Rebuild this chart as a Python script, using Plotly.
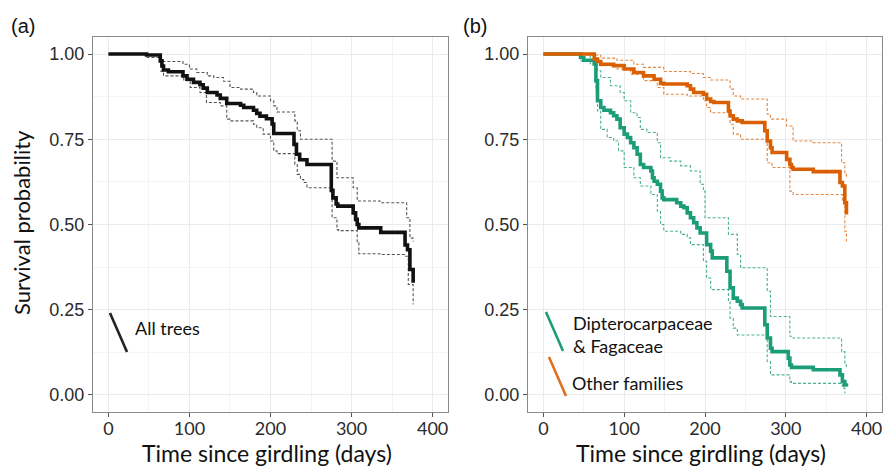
import plotly.graph_objects as go

# ---------------- data ----------------
# (a) all trees
t_all = [0, 47, 64, 66, 68, 74, 92, 97, 105, 113, 117, 122, 134, 138, 146, 163, 167, 179, 183, 187, 195,
         202, 204, 229, 232, 236, 245, 275, 277, 281, 283, 302, 305, 307, 309, 336, 366, 369, 372, 376]
s_all = [1.0, 0.997, 0.98, 0.965, 0.953, 0.948, 0.936, 0.926, 0.917, 0.91, 0.9, 0.887, 0.88, 0.87, 0.855,
         0.85, 0.843, 0.835, 0.826, 0.818, 0.81, 0.795, 0.767, 0.735, 0.706, 0.69, 0.676, 0.6, 0.578, 0.56,
         0.554, 0.534, 0.515, 0.5, 0.49, 0.477, 0.44, 0.426, 0.368, 0.329]
t_all_up = [47, 64, 68, 92, 100, 109, 122, 130, 142, 150, 163, 179, 183, 200, 204, 208, 230, 233, 237,
            276, 282, 302, 307, 335, 368, 372, 376]
s_all_up = [0.99, 0.98, 0.978, 0.97, 0.956, 0.946, 0.936, 0.931, 0.92, 0.902, 0.897, 0.887, 0.877, 0.863,
            0.848, 0.83, 0.804, 0.775, 0.75, 0.686, 0.637, 0.608, 0.569, 0.564, 0.52, 0.46, 0.45]
t_all_lo = [64, 68, 93, 101, 113, 121, 138, 146, 150, 179, 183, 191, 200, 204, 208, 230, 233, 237, 241,
            245, 276, 282, 284, 307, 309, 335, 366, 370, 376]
s_all_lo = [0.95, 0.936, 0.922, 0.902, 0.887, 0.858, 0.848, 0.809, 0.804, 0.794, 0.784, 0.765, 0.745,
            0.716, 0.708, 0.676, 0.647, 0.632, 0.623, 0.608, 0.52, 0.485, 0.482, 0.446, 0.414, 0.412,
            0.407, 0.324, 0.265]

# (b) other families
t_oth = [0, 63, 67, 71, 87, 100, 112, 124, 137, 145, 149, 178, 182, 186, 198, 202, 207, 211, 229, 231,
         235, 240, 246, 274, 277, 281, 283, 301, 305, 307, 309, 334, 367, 370, 373, 375]
s_oth = [1.0, 0.985, 0.978, 0.97, 0.966, 0.956, 0.946, 0.936, 0.926, 0.914, 0.912, 0.907, 0.897, 0.887,
         0.882, 0.868, 0.861, 0.858, 0.833, 0.819, 0.809, 0.804, 0.799, 0.775, 0.745, 0.725, 0.711, 0.691,
         0.676, 0.667, 0.662, 0.655, 0.623, 0.613, 0.564, 0.529]
t_oth_up = [58, 71, 91, 112, 124, 149, 182, 198, 207, 231, 235, 244, 277, 281, 301, 309, 334, 369, 373, 375]
s_oth_up = [0.997, 0.988, 0.982, 0.97, 0.961, 0.949, 0.943, 0.931, 0.924, 0.897, 0.877, 0.868, 0.824,
            0.809, 0.789, 0.745, 0.74, 0.681, 0.647, 0.637]
t_oth_lo = [63, 71, 91, 108, 124, 141, 149, 178, 198, 202, 207, 231, 235, 244, 277, 283, 305, 309, 370,
            373, 375]
s_oth_lo = [0.98, 0.966, 0.956, 0.941, 0.922, 0.902, 0.882, 0.877, 0.863, 0.843, 0.828, 0.794, 0.765,
            0.75, 0.681, 0.667, 0.598, 0.588, 0.569, 0.48, 0.451]

# (b) Dipterocarpaceae & Fagaceae
t_dip = [0, 46, 50, 63, 65, 67, 71, 75, 83, 87, 91, 95, 100, 104, 108, 112, 116, 120, 124, 133, 135, 137,
         141, 145, 147, 149, 165, 170, 174, 178, 182, 186, 190, 194, 202, 207, 209, 227, 231, 235, 240, 244,
         246, 274, 277, 281, 283, 303, 305, 307, 334, 367, 370, 373, 375]
s_dip = [1.0, 0.99, 0.982, 0.971, 0.922, 0.863, 0.843, 0.835, 0.828, 0.819, 0.809, 0.784, 0.765, 0.755,
         0.74, 0.725, 0.706, 0.676, 0.667, 0.657, 0.637, 0.627, 0.618, 0.598, 0.578, 0.573, 0.564, 0.554,
         0.549, 0.534, 0.52, 0.505, 0.49, 0.475, 0.441, 0.422, 0.402, 0.363, 0.314, 0.284, 0.275, 0.265,
         0.255, 0.206, 0.167, 0.137, 0.127, 0.108, 0.088, 0.081, 0.074, 0.059, 0.039, 0.029, 0.025]
t_dip_up = [46, 58, 65, 67, 71, 83, 95, 100, 108, 116, 120, 128, 141, 145, 157, 170, 182, 194, 198, 200,
            229, 240, 244, 277, 281, 305, 309, 369, 373, 375]
s_dip_up = [0.998, 0.99, 0.971, 0.951, 0.931, 0.907, 0.887, 0.863, 0.828, 0.814, 0.779, 0.77, 0.74,
            0.696, 0.686, 0.672, 0.657, 0.618, 0.598, 0.52, 0.471, 0.412, 0.373, 0.304, 0.23, 0.172, 0.167,
            0.127, 0.088, 0.078]
t_dip_lo = [46, 58, 65, 67, 71, 79, 87, 93, 100, 112, 120, 133, 141, 145, 149, 170, 178, 182, 198, 202,
            207, 229, 231, 235, 240, 277, 281, 305, 307, 370, 373]
s_dip_lo = [0.98, 0.971, 0.892, 0.833, 0.779, 0.755, 0.745, 0.716, 0.667, 0.637, 0.613, 0.588, 0.539,
            0.5, 0.48, 0.471, 0.461, 0.441, 0.392, 0.343, 0.309, 0.275, 0.225, 0.196, 0.176, 0.098, 0.059,
            0.039, 0.034, 0.02, 0.005]

x_ticks = [0, 100, 200, 300, 400]
y_ticks = [0.0, 0.25, 0.5, 0.75, 1.0]
y_tick_text = ["0.00", "0.25", "0.50", "0.75", "1.00"]
x_title = "Time since girdling (days)"
y_title = "Survival probability"

# ---------------- styles ----------------
BLACK = "#111111"
GREEN = "#1b9e77"
ORANGE = "#d95f02"
CI_DASH = "3px,2px"

fig = go.Figure()


def km(t, s, color, width, xa, ya, dash=None):
    fig.add_trace(go.Scatter(x=t, y=s, mode="lines", line=dict(color=color, width=width, shape="hv", dash=dash),
                             xaxis=xa, yaxis=ya, showlegend=False, hoverinfo="skip"))


km(t_all_up, s_all_up, "#555555", 1.1, "x", "y", CI_DASH)
km(t_all_lo, s_all_lo, "#555555", 1.1, "x", "y", CI_DASH)
km(t_all, s_all, BLACK, 3.6, "x", "y")

km(t_dip_up, s_dip_up, "rgba(27,158,119,0.8)", 1.1, "x2", "y2", CI_DASH)
km(t_dip_lo, s_dip_lo, "rgba(27,158,119,0.8)", 1.1, "x2", "y2", CI_DASH)
km(t_oth_up, s_oth_up, "rgba(217,95,2,0.75)", 1.1, "x2", "y2", CI_DASH)
km(t_oth_lo, s_oth_lo, "rgba(217,95,2,0.75)", 1.1, "x2", "y2", CI_DASH)
km(t_dip, s_dip, GREEN, 3.6, "x2", "y2")
km(t_oth, s_oth, ORANGE, 3.6, "x2", "y2")

W, H = 883, 466
# plot boxes in pixels
A = (93, 448)
B = (528, 882)
TOP, BOT = 37, 412

xfont = dict(family="Lato, Open Sans, sans-serif", size=18, color="#2b2b2b")
yfont = dict(family="Liberation Sans, Arial, sans-serif", size=18, color="#2b2b2b")

def xaxis(dom):
    return dict(domain=[dom[0] / W, dom[1] / W], range=[-19, 419], tickvals=x_ticks, ticktext=[str(v) for v in x_ticks],
                showgrid=True, gridcolor="#ebebeb", gridwidth=1, zeroline=False, automargin=False,
                minor=dict(tickvals=[50, 150, 250, 350], showgrid=True, gridcolor="#f4f4f4", gridwidth=1, ticks=""),
                showline=True, mirror=True, linecolor="#8a8a8a", linewidth=1.3,
                ticks="outside", ticklen=4, tickcolor="#555555", tickwidth=1, tickfont=xfont,
                ticklabelstandoff=-4)

def yaxis(anchor):
    return dict(domain=[1 - BOT / H, 1 - TOP / H], range=[-0.05, 1.05], tickvals=y_ticks, ticktext=y_tick_text,
                showgrid=True, gridcolor="#ebebeb", gridwidth=1, zeroline=False, automargin=False,
                minor=dict(tickvals=[0.125, 0.375, 0.625, 0.875], showgrid=True, gridcolor="#f4f4f4", gridwidth=1, ticks=""),
                showline=True, mirror=True, linecolor="#8a8a8a", linewidth=1.3, anchor=anchor,
                ticks="outside", ticklen=4, tickcolor="#555555", tickwidth=1, tickfont=yfont)

xa = xaxis(A); xa["anchor"] = "y"
xb = xaxis(B); xb["anchor"] = "y2"
fig.update_layout(
    width=W, height=H, margin=dict(l=0, r=0, t=0, b=0, autoexpand=False),
    paper_bgcolor="white", plot_bgcolor="white",
    xaxis=xa, xaxis2=xb, yaxis=yaxis("x"), yaxis2=yaxis("x2"),
    showlegend=False,
)

xtfont = dict(family="Lato, Open Sans, sans-serif", size=23, color="#111111")
ytfont = dict(family="Lato, Open Sans, sans-serif", size=22, color="#111111")
lfont = dict(family="Lato, Open Sans, sans-serif", size=18, color="#111111")
ann = []
# axis titles
for a in (A, B):
    ann.append(dict(text=x_title, x=((a[0] + a[1]) / 2 - 4) / W, y=1 - 453 / H, xref="paper", yref="paper",
                    showarrow=False, font=xtfont, xanchor="center", yanchor="middle"))
ann.append(dict(text=y_title, x=21 / W, y=1 - 223 / H, xref="paper", yref="paper", textangle=-90,
                showarrow=False, font=ytfont, xanchor="center", yanchor="middle"))
# panel labels
pfont = dict(family="Liberation Sans, Arial, sans-serif", size=20, color="#111111")
ann.append(dict(text="(a)", x=9 / W, y=1 - 26 / H, xref="paper", yref="paper", showarrow=False, font=pfont,
                xanchor="left", yanchor="middle"))
ann.append(dict(text="(b)", x=461 / W, y=1 - 26 / H, xref="paper", yref="paper", showarrow=False, font=pfont,
                xanchor="left", yanchor="middle"))
# legend texts
ann.append(dict(text="All trees", x=133 / W, y=1 - 328 / H, xref="paper", yref="paper", showarrow=False,
                font=lfont, xanchor="left", yanchor="middle"))
ann.append(dict(text="Dipterocarpaceae<br>& Fagaceae", x=571 / W, y=1 - 334 / H, xref="paper", yref="paper",
                showarrow=False, font=lfont, xanchor="left", yanchor="middle", align="left"))
ann.append(dict(text="Other families", x=570 / W, y=1 - 383 / H, xref="paper", yref="paper", showarrow=False,
                font=lfont, xanchor="left", yanchor="middle"))
fig.update_layout(annotations=ann)

# legend key strokes
shapes = []
for (x0, y0, x1, y1, c) in [(110, 313, 127, 352, "#222222"), (546, 312, 563, 351, GREEN), (549, 357, 566, 396, "#e07020")]:
    shapes.append(dict(type="line", xref="paper", yref="paper", x0=x0 / W, y0=1 - y0 / H, x1=x1 / W, y1=1 - y1 / H,
                       line=dict(color=c, width=2.6)))
fig.update_layout(shapes=shapes)

fig.write_html("out.html", config={"displayModeBar": False},
               post_script="document.body.style.margin='0';document.body.style.overflow='hidden';")
